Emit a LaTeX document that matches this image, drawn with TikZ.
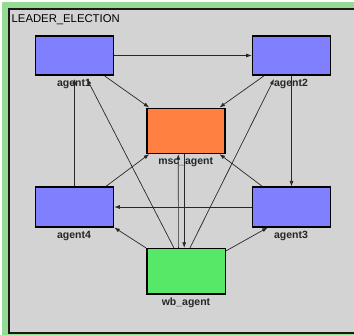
\documentclass[tikz,border=0pt]{standalone}
\usepackage{fontspec}
\setmainfont{Liberation Sans}
\usetikzlibrary{arrows.meta}
\definecolor{framegreen}{RGB}{150,218,150}
\definecolor{panelgrey}{RGB}{211,211,211}
\definecolor{agentblue}{RGB}{128,128,255}
\definecolor{mscorange}{RGB}{255,128,64}
\definecolor{wbgreen}{RGB}{88,232,104}
\definecolor{edgegrey}{RGB}{40,40,40}
\tikzset{
  box/.style={draw=black, line width=1.6pt, inner sep=0pt, minimum width=78pt},
  agentbox/.style={box, fill=agentblue, minimum height=39.5pt},
  bigbox/.style={box, minimum height=45pt},
  lbl/.style={anchor=base, inner sep=0pt, font=\fontsize{10.5}{12}\selectfont\bfseries, text=black!85},
  conn/.style={draw=edgegrey, line width=0.7pt, -{Latex[length=5.5pt,width=4pt]}},
}
\begin{document}
\begin{tikzpicture}[x=1pt,y=-1pt]
\useasboundingbox (0,0) rectangle (354,335);
\clip (0,0) rectangle (354,335);
\fill[white] (0,0) rectangle (354,335);
\fill[framegreen] (1.5,1.5) rectangle (370,345);
\draw[line width=1.8pt, draw=black!90, fill=panelgrey] (9,9) rectangle (365,333.2);
\node[anchor=base west, inner sep=0pt, font=\fontsize{11.3}{13}\selectfont] (title) at (11.5,22.7) {LEADER\_ELECTION};

\node[agentbox] (agent1) at (74.5,55.5) {};
\node[agentbox] (agent2) at (291.5,55.5) {};
\node[bigbox, fill=mscorange] (msc) at (185.7,130.8) {};
\node[agentbox] (agent4) at (74.5,207) {};
\node[agentbox] (agent3) at (291.5,207) {};
\node[bigbox, fill=wbgreen, minimum width=78.6pt, minimum height=45.3pt] (wb) at (186,271.3) {};

% connectors
\draw[conn] (agent1.east) -- (agent2.west);
\draw[conn] ([xshift=-9.5pt]agent1.south east) -- ([xshift=3.3pt]msc.north west);
\draw[conn] ([xshift=12pt]agent2.south west) -- ([xshift=-6pt]msc.north east);
\draw[conn] (agent2.south) -- (agent3.north);
\draw[conn] (agent3.west) -- (agent4.east);
\draw[conn] (agent4.north) -- ([yshift=-3pt]agent1.south);
\draw[conn] ([xshift=28pt]wb.north west) -- ([xshift=12.5pt,yshift=-3pt]agent1.south);
\draw[conn] (wb.north west) -- (agent4.south east);
\draw[conn] ([yshift=-3pt]wb.north east) -- ([xshift=16pt]agent3.south west);
\draw[conn] ([xshift=4pt]wb.north) -- ([xshift=-17.5pt,yshift=-3pt]agent2.south);
\draw[conn] ([xshift=10.7pt]agent3.north west) -- ([xshift=-6pt]msc.south east);
\draw[conn] ([xshift=-8.5pt]agent4.north east) -- ([xshift=3.3pt]msc.south west);
\draw[conn] ([xshift=-7.6pt]wb.north) -- ([xshift=-7.4pt]msc.south);
\draw[conn] ([xshift=-1.5pt]msc.south) -- ([xshift=-1.8pt]wb.north);

% labels
\node[lbl] (l1) at (74,86) {agent1};
\node[lbl] (l2) at (291,86) {agent2};
\node[lbl] (lm) at (185.7,164.3) {msc\_agent};
\node[lbl] (l4) at (74,238) {agent4};
\node[lbl] (l3) at (291,238) {agent3};
\node[lbl] (lw) at (186,305) {wb\_agent};
\end{tikzpicture}
\end{document}
